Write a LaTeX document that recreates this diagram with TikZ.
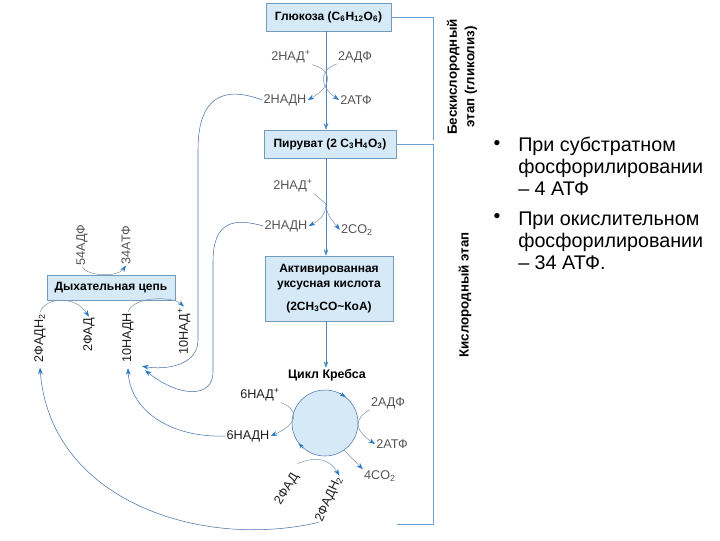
\documentclass[tikz,border=0pt]{standalone}
\usepackage{fontspec}
\setmainfont{Liberation Sans}
\usetikzlibrary{arrows.meta}
\usetikzlibrary{calc}

\definecolor{boxfill}{RGB}{214,233,247}
\definecolor{boxline}{RGB}{115,155,190}
\definecolor{flowblue}{RGB}{70,135,195}
\definecolor{tipblue}{RGB}{40,120,200}
\definecolor{sidegray}{RGB}{130,150,170}
\definecolor{backblue}{RGB}{75,115,170}
\definecolor{lblgray}{RGB}{85,85,85}
\definecolor{lbldk}{RGB}{30,30,30}

\begin{document}
\begin{tikzpicture}[x=0.75pt,y=0.75pt,yscale=-1,xscale=1,
  stagebox/.style={draw=boxline, fill=boxfill, font=\bfseries\fontsize{9}{11}\selectfont, inner sep=0pt, align=center},
  krebs/.style={circle, draw=backblue, fill=boxfill, minimum size=49.5pt, inner sep=0pt},
  lbl/.style={inner sep=0.75pt, font=\fontsize{9.5}{11}\selectfont, text=lblgray},
  lbldark/.style={lbl, text=lbldk},
  flow/.style={draw=flowblue, -{Stealth[length=5pt,width=3.5pt]}},
  sideline/.style={draw=sidegray},
  sidearr/.style={sideline, -{Stealth[length=5pt,width=3.5pt,color=tipblue]}},
  backarr/.style={draw=backblue, -{Stealth[length=5pt,width=3.5pt,color=tipblue]}},
  ringtip/.style={draw=backblue, -{Stealth[length=4.5pt,width=3pt,color=tipblue]}},
  bracket/.style={draw=flowblue!80},
  stagelbl/.style={rotate=90, font=\bfseries\fontsize{10}{13}\selectfont, align=center, inner sep=0pt},
  bullettext/.style={anchor=north west, inner sep=0pt, align=left, font=\fontsize{14.8}{16.3}\selectfont}
]
\useasboundingbox (0,0) rectangle (720,540);

%Shape: Rectangle
\node[stagebox, minimum width=93.75pt, minimum height=21pt] (glc) at (328.5,17) {Глюкоза (C\textsubscript{6}H\textsubscript{12}O\textsubscript{6})};
%Shape: Rectangle
\node[stagebox, minimum width=99pt, minimum height=21pt] (pyr) at (330,144) {Пируват (2 C\textsubscript{3}H\textsubscript{4}O\textsubscript{3})};
%Shape: Rectangle
\node[stagebox, minimum width=96pt, minimum height=48.75pt] (acc) at (329,288.5) {Активированная\\уксусная кислота\\[6pt](2CH\textsubscript{3}CO\textasciitilde КоА)};
%Shape: Rectangle
\node[stagebox, minimum width=96pt, minimum height=18.75pt] (rsp) at (111,287.5) {Дыхательная цепь};
%Shape: Circle
\node[krebs] (kc) at (325,423) {};
% Text Node
\node[inner sep=0.75pt, font=\bfseries\fontsize{9.3}{11}\selectfont] (krl) at (327,375) {Цикл Кребса};

%Straight Lines
\coordinate (kx) at (326,0);
\draw[flow] (glc.south -| kx) -- (pyr.north -| kx);
\draw[flow] (pyr.south -| kx) -- (acc.north -| kx);
\draw[flow] (acc.south -| kx) -- (krl.north -| kx);

% Text Node
\node[lbl] (nadA) at (291,57) {2НАД\textsuperscript{+}};
% Text Node
\node[lbl] (adpA) at (355,57) {2АДФ};
% Text Node
\node[lbl] (nadhA) at (285,100) {2НАДН};
% Text Node
\node[lbl] (atpA) at (356,100) {2АТФ};
%Curve Lines
\draw[sidearr] (nadA.south east) .. controls (333,70) and (333,86) .. (nadhA.east);
\draw[sidearr] (adpA.south west) .. controls (319,70) and (319,86) .. (atpA.west);

% Text Node
\node[lbl] (nadB) at (293,186) {2НАД\textsuperscript{+}};
% Text Node
\node[lbl] (nadhB) at (286,226) {2НАДН};
% Text Node
\node[lbl] (co2B) at (357,230) {2CO\textsubscript{2}};
%Curve Lines
\coordinate (splitB) at (326,204);
\draw[sideline] (nadB.south east) -- (splitB);
\draw[sidearr] (splitB) .. controls (326,214) and (320,220) .. (nadhB.east);
\draw[sidearr] (splitB) .. controls (326,214) and (332,220) .. (co2B.west);

% Text Node
\node[lbl, rotate=90] (adpC) at (82,245) {54АДФ};
% Text Node
\node[lbl, rotate=90] (atpC) at (126,245) {34АТФ};
% Text Node
\node[lbldark, rotate=90] (fadhC) at (40,338) {2ФАДН\textsubscript{2}};
% Text Node
\node[lbldark, rotate=90] (fadC) at (89,335) {2ФАД};
% Text Node
\node[lbldark, rotate=90] (nadhC) at (128,338) {10НАДН};
% Text Node
\node[lbldark, rotate=90] (nadC) at (184,331) {10НАД\textsuperscript{+}};
%Curve Lines
\draw[sidearr] (adpC.west) .. controls (88,277) and (118,277) .. (atpC.west);
\draw[sidearr] (fadhC.east) .. controls (46,296) and (76,296) .. (fadC.east);
\draw[sidearr] (nadhC.east) .. controls (134,296) and (172,296) .. (nadC.east);

% Text Node
\node[lbldark] (nadD) at (260,395) {6НАД\textsuperscript{+}};
% Text Node
\node[lbl] (adpD) at (388,403) {2АДФ};
% Text Node
\node[lbldark] (nadhD) at (248,436) {6НАДН};
% Text Node
\node[lbl] (atpD) at (392,444) {2АТФ};
% Text Node
\node[lbl] (co2D) at (380,476) {4CO\textsubscript{2}};
% Text Node
\node[lbldark, rotate=58] (fadD) at (287,489) {2ФАД};
% Text Node
\node[lbldark, rotate=66] (fadhD) at (329,499) {2ФАДН\textsubscript{2}};
%Curve Lines
\draw[sidearr] (nadD.south east) .. controls (300,410) and (298,424) .. (nadhD.east);
\draw[sidearr] (adpD.south west) .. controls (354,418) and (354,430) .. (atpD.west);
\draw[sidearr] (kc.-55) -- (co2D.north west);
\draw[sidearr] ($(fadD.east)+(1,-10)$) .. controls (318,455) and (330,460) .. (fadhD.east);
\draw[ringtip] (kc.63) -- (kc.51);
\draw[ringtip] (kc.229) -- (kc.217);

%Curve Lines
\draw[backarr] (nadhD.west) .. controls (170,438) and (130,410) .. ($(nadhC.west)+(0,4)$);
\draw[backarr] (nadhA.west) .. controls (225,86) and (198,95) .. (198,150) -- (198,340) .. controls (198,366) and (165,370) .. ($(nadhC.south west)+(7,2)$);
\draw[backarr] (nadhB.west) .. controls (235,218) and (213,220) .. (213,262) -- (213,372) .. controls (213,398) and (180,398) .. ($(nadhC.south west)+(10,6)$);
\draw[backarr] (fadhD.west) .. controls (200,550) and (50,500) .. ($(fadhC.west)+(0,4)$);

%Straight Lines
\coordinate (brkA) at (433,140);
\coordinate (brkB) at (433,524);
\coordinate (brkC) at (397,524);
\draw[bracket] (glc.east) -| (brkA);
\draw[bracket] (pyr.east) -| (brkB) -- (brkC);

% Text Node
\node[stagelbl] (anaer) at (462,77) {Бескислородный\\этап (гликолиз)};
% Text Node
\node[stagelbl] (aer) at (465,295) {Кислородный этап};

% Text Node
\node[inner sep=0pt, font=\fontsize{14.5}{16}\selectfont] (dotA) at (497,145) {\textbullet};
\node[bullettext] (txtA) at (518,137) {При субстратном\\фосфорилировании\\– 4 АТФ};
% Text Node
\node[inner sep=0pt, font=\fontsize{14.5}{16}\selectfont] (dotB) at (497,218) {\textbullet};
\node[bullettext] (txtB) at (518,212) {При окислительном\\фосфорилировании\\– 34 АТФ.};

\end{tikzpicture}
\end{document}
